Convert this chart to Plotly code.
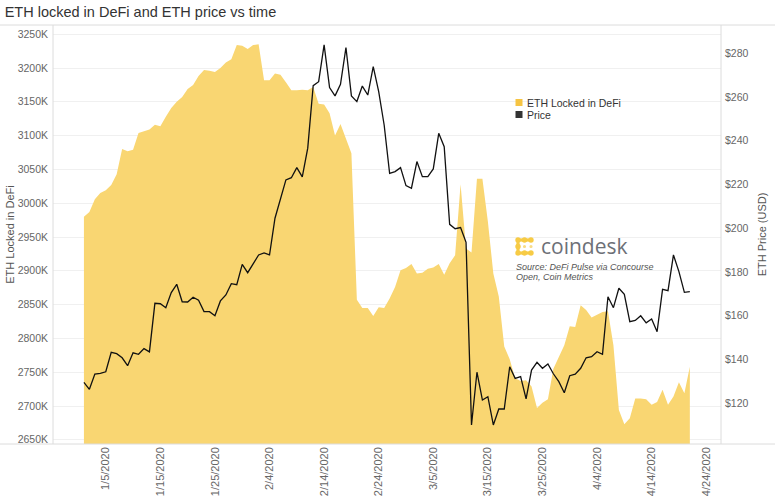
import plotly.graph_objects as go
import pandas as pd

# ---------------- data ----------------
dates = pd.date_range("2020-01-01", "2020-04-21", freq="D")

eth_locked_k = [
    2980, 2987, 3006, 3015, 3019, 3027, 3043, 3080, 3077, 3079,
    3104, 3106, 3109, 3116, 3114, 3128, 3141, 3150, 3157, 3169,
    3175, 3188, 3197, 3196, 3194, 3200, 3208, 3213, 3234, 3233,
    3228, 3234, 3235, 3182, 3182, 3192, 3190, 3179, 3167, 3167,
    3168, 3167, 3172, 3147, 3146, 3133, 3100, 3117, 3096, 3074,
    2857, 2845, 2845, 2833, 2846, 2845, 2859, 2876, 2901, 2904,
    2910, 2896, 2897, 2903, 2905, 2910, 2894, 2911, 2923, 3028,
    2933, 2927, 3036, 3036, 2973, 2896, 2862, 2788, 2769, 2741,
    2737, 2738, 2729, 2697, 2705, 2710, 2755, 2772, 2790, 2818,
    2817, 2849, 2842, 2831, 2835, 2839, 2840, 2790, 2694, 2673,
    2682, 2711, 2711, 2710, 2702, 2706, 2724, 2702, 2714, 2735,
    2719, 2758,
]

eth_price = [
    129.6, 126.4, 133.4, 133.7, 134.4, 143.3, 142.7, 140.8, 137.2, 143.1,
    142.4, 145.0, 143.5, 165.7, 165.5, 163.7, 170.6, 174.4, 166.4, 166.3,
    168.5, 167.1, 161.9, 161.9, 160.0, 166.8, 169.5, 174.7, 174.2, 183.5,
    179.7, 183.5, 187.8, 188.7, 187.8, 204.6, 212.9, 222.1, 223.1, 227.7,
    223.5, 236.6, 265.2, 267.0, 283.8, 264.3, 260.5, 265.8, 282.6, 260.5,
    257.9, 265.0, 260.9, 273.9, 262.4, 247.2, 225.1, 225.9, 227.7, 219.5,
    218.3, 230.5, 223.6, 223.6, 227.1, 243.4, 237.3, 201.8, 199.8, 200.3,
    193.6, 110.1, 134.2, 121.5, 123.0, 110.1, 117.4, 117.4, 136.7, 131.4,
    132.2, 122.0, 135.2, 138.7, 136.0, 138.0, 133.5, 129.9, 124.8, 132.6,
    133.3, 136.0, 140.8, 141.3, 143.6, 142.4, 168.7, 163.7, 172.6, 169.8,
    157.3, 157.9, 160.0, 156.8, 158.5, 152.7, 172.1, 171.5, 187.8, 180.2,
    170.7, 171.0,
]

tick_dates = ["2020-01-05", "2020-01-15", "2020-01-25", "2020-02-04",
              "2020-02-14", "2020-02-24", "2020-03-05", "2020-03-15",
              "2020-03-25", "2020-04-04", "2020-04-14", "2020-04-24"]
tick_labels = ["1/5/2020", "1/15/2020", "1/25/2020", "2/4/2020",
               "2/14/2020", "2/24/2020", "3/5/2020", "3/15/2020",
               "3/25/2020", "4/4/2020", "4/14/2020", "4/24/2020"]

left_ticks = [2650, 2700, 2750, 2800, 2850, 2900, 2950, 3000, 3050, 3100, 3150, 3200, 3250]
right_ticks = [120, 140, 160, 180, 200, 220, 240, 260, 280]

series_names = ["ETH Locked in DeFi", "Price"]

# ---------------- style ----------------
AREA = "#F9D672"
AREA_KEY = "#F6C443"
PRICE_KEY = "#333333"
LINE = "#111111"
FONT = "Liberation Sans, Arial, Helvetica, sans-serif"

W, H = 775, 500
ML, MR, MT, MB = 53, 54, 25, 56
PW, PH = W - ML - MR, H - MT - MB


def px_x(x):
    return (x - ML) / PW


def px_y(y):
    return (H - MB - y) / PH


fig = go.Figure()

fig.add_trace(go.Scatter(
    x=dates, y=eth_locked_k, yaxis="y", mode="lines", fill="tozeroy",
    line=dict(width=0, color=AREA), fillcolor=AREA, showlegend=False,
    name=series_names[0],
))
fig.add_trace(go.Scatter(
    x=dates, y=eth_price, yaxis="y2", mode="lines",
    line=dict(width=1.3, color=LINE), showlegend=False, name=series_names[1],
))

shapes = []
grey = "#dcdcdc"
# frame lines (full-width horizontal separators, vertical axis lines)
shapes.append(dict(type="line", xref="paper", yref="paper", x0=px_x(0), x1=px_x(W),
                   y0=1, y1=1, line=dict(color=grey, width=1)))
shapes.append(dict(type="line", xref="paper", yref="paper", x0=px_x(0), x1=px_x(W),
                   y0=0, y1=0, line=dict(color=grey, width=1)))
shapes.append(dict(type="line", xref="paper", yref="paper", x0=0, x1=0,
                   y0=0, y1=1, line=dict(color=grey, width=1)))
shapes.append(dict(type="line", xref="paper", yref="paper", x0=1, x1=1,
                   y0=0, y1=1, line=dict(color=grey, width=1)))

# legend: square swatches + labels
legend_rows = [(102.5, AREA_KEY), (114.5, PRICE_KEY)]
annotations = []
for name, (cy, col) in zip(series_names, legend_rows):
    shapes.append(dict(type="rect", xref="paper", yref="paper",
                       x0=px_x(515.5), x1=px_x(522.5), y0=px_y(cy + 3.5), y1=px_y(cy - 3.5),
                       fillcolor=col, line=dict(width=0)))
    annotations.append(dict(text=name, xref="paper", yref="paper", x=px_x(525), y=px_y(cy),
                            xanchor="left", yanchor="middle", showarrow=False,
                            font=dict(family=FONT, size=10.5, color="#333333")))

# coindesk logo mark (dots forming a "C")
solid = [(518, 240), (524.5, 240), (531, 240), (518, 246.5), (518, 253), (524.5, 253), (531, 253)]
light = [(524.5, 246.5), (531, 246.5)]
r = 2.7
for (cx, cy) in solid:
    shapes.append(dict(type="circle", xref="paper", yref="paper",
                       x0=px_x(cx - r), x1=px_x(cx + r), y0=px_y(cy + r), y1=px_y(cy - r),
                       fillcolor="#F7CB45", line=dict(width=0)))
for (cx, cy) in light:
    shapes.append(dict(type="circle", xref="paper", yref="paper",
                       x0=px_x(cx - 1.6), x1=px_x(cx + 1.6), y0=px_y(cy + 1.6), y1=px_y(cy - 1.6),
                       fillcolor="#F9DC85", line=dict(width=0)))
for (x0, y0, x1, y1) in [(518, 238.4, 531, 241.6), (516.4, 240, 519.6, 253), (518, 251.4, 531, 254.6)]:
    shapes.append(dict(type="rect", xref="paper", yref="paper",
                       x0=px_x(x0), x1=px_x(x1), y0=px_y(y1), y1=px_y(y0),
                       fillcolor="#F7CB45", line=dict(width=0)))

annotations += [
    dict(text="coindesk", xref="paper", yref="paper", x=px_x(539), y=px_y(246.5),
         xanchor="left", yanchor="middle", showarrow=False,
         font=dict(family="Open Sans, " + FONT, size=21, color="#6d7077")),
    dict(text="<i>Source: DeFi Pulse via Concourse</i>", xref="paper", yref="paper",
         x=px_x(514), y=px_y(266.5), xanchor="left", yanchor="middle", showarrow=False,
         font=dict(family=FONT, size=9, color="#555555")),
    dict(text="<i>Open, Coin Metrics</i>", xref="paper", yref="paper",
         x=px_x(514), y=px_y(277), xanchor="left", yanchor="middle", showarrow=False,
         font=dict(family=FONT, size=9, color="#555555")),
]

fig.update_layout(
    width=W, height=H,
    margin=dict(l=ML, r=MR, t=MT, b=MB, pad=0, autoexpand=False),
    paper_bgcolor="white", plot_bgcolor="white",
    font=dict(family=FONT, color="#555555"),
    showlegend=False,
    title=dict(text="ETH locked in DeFi and ETH price vs time", x=0.006, xanchor="left",
               y=1 - 12 / H, yanchor="middle", automargin=False,
               font=dict(size=14.5, color="#333333")),
    xaxis=dict(
        type="date", range=["2019-12-26 08:00", "2020-04-26 17:00"], automargin=False,
        tickmode="array", tickvals=tick_dates, ticktext=tick_labels, tickangle=-90,
        tickfont=dict(size=11, color="#666666"), showgrid=False, zeroline=False,
        showline=False, ticks="",
    ),
    yaxis=dict(
        range=[2643.8, 3263.6], tickmode="array", tickvals=left_ticks, automargin=False,
        ticktext=[f"{v}K" for v in left_ticks],
        tickfont=dict(size=10.5, color="#666666"), showgrid=True, gridcolor="#f0f0f0",
        gridwidth=1, zeroline=False, showline=False, ticks="", ticklabelstandoff=4,
        title=dict(text="ETH Locked in DeFi", font=dict(size=11, color="#555555"), standoff=0),
    ),
    yaxis2=dict(
        overlaying="y", side="right", range=[101.4, 292.9], tickmode="array",
        tickvals=right_ticks, ticktext=[f"${v}" for v in right_ticks], automargin=False,
        tickfont=dict(size=10.5, color="#666666"), showgrid=False, zeroline=False,
        showline=False, ticks="", ticklabelstandoff=3,
        title=dict(text="ETH Price (USD)", font=dict(size=11, color="#555555"), standoff=10),
    ),
    shapes=shapes,
    annotations=annotations,
    hovermode=False,
)

# the page body has a default 8px margin; remove it so the figure sits at the window origin
fig.write_html("out.html", config={"displayModeBar": False},
               post_script="document.body.style.margin='0';")
